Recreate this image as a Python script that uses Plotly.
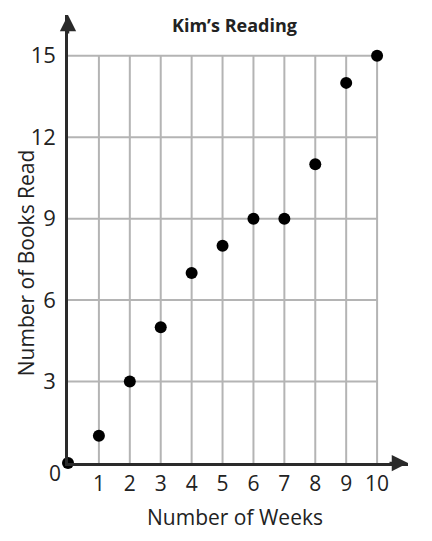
import plotly.graph_objects as go

weeks = [0, 1, 2, 3, 4, 5, 6, 7, 8, 9, 10]
books = [0, 1, 3, 5, 7, 8, 9, 9, 11, 14, 15]
x_ticks = [1, 2, 3, 4, 5, 6, 7, 8, 9, 10]
y_ticks = [3, 6, 9, 12, 15]

FONT = "Open Sans"
GRID = "#b4b4b4"
AX = "#2a2a2a"
TXT = "#222"

fig = go.Figure()

shapes = []
for xv in x_ticks:
    shapes.append(dict(type="line", xref="x", yref="y", x0=xv, x1=xv, y0=0, y1=max(y_ticks),
                       line=dict(color=GRID, width=2), layer="below"))
for yv in y_ticks:
    shapes.append(dict(type="line", xref="x", yref="y", x0=0, x1=max(x_ticks), y0=yv, y1=yv,
                       line=dict(color=GRID, width=2), layer="below"))

fig.add_trace(go.Scatter(x=weeks, y=books, mode="markers",
                         marker=dict(size=12, color="black"), cliponaxis=False,
                         showlegend=False))

annotations = [
    dict(text="<b>Kim’s Reading</b>", xref="paper", yref="paper", x=0.49, y=1.0,
         xanchor="center", yanchor="middle", yshift=-10, showarrow=False,
         font=dict(family=FONT, size=18, color=TXT)),
    dict(text="Number of Weeks", xref="paper", yref="paper", x=0.49, y=0,
         xanchor="center", yanchor="middle", yshift=-54, showarrow=False,
         font=dict(family=FONT, size=21, color=TXT)),
    dict(text="Number of Books Read", xref="paper", yref="paper", x=0, y=0.446,
         xanchor="center", yanchor="middle", xshift=-42, textangle=-90, showarrow=False,
         font=dict(family=FONT, size=21, color=TXT)),
    dict(text="0", xref="x", yref="y", x=0, y=0, xshift=-13, yshift=-10,
         showarrow=False, font=dict(family=FONT, size=21, color=TXT)),
    # arrow heads
    dict(text="", xref="x", yref="y", x=0, y=16.5, ax=0, ay=20, showarrow=True,
         arrowhead=2, arrowsize=1.3, arrowwidth=2.5, arrowcolor=AX),
    dict(text="", xref="x", yref="y", x=11, y=0, ax=-20, ay=0, showarrow=True,
         arrowhead=2, arrowsize=1.3, arrowwidth=2.5, arrowcolor=AX),
]

fig.update_layout(
    width=424, height=533,
    margin=dict(l=60, r=24, t=7, b=78),
    paper_bgcolor="white", plot_bgcolor="white",
    shapes=shapes, annotations=annotations,
    xaxis=dict(range=[0, 11], tickvals=x_ticks, ticktext=[str(v) for v in x_ticks],
               showgrid=False, zeroline=False, showline=True, linecolor=AX, linewidth=2.5,
               ticks="", ticklabelstandoff=0, automargin=False,
               tickfont=dict(family=FONT, size=21, color=TXT)),
    yaxis=dict(range=[0, 16.5], tickvals=y_ticks, ticktext=[str(v) for v in y_ticks],
               showgrid=False, zeroline=False, showline=True, linecolor=AX, linewidth=2.5,
               ticks="", ticklabelstandoff=5, automargin=False,
               tickfont=dict(family=FONT, size=22, color=TXT)),
)

fig.write_html("out.html")
